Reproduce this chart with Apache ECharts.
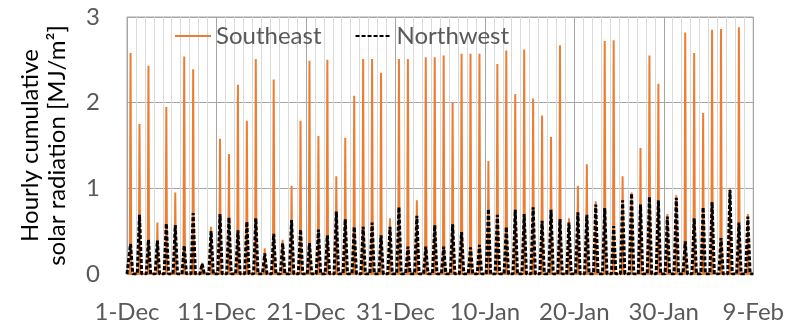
<!DOCTYPE html>
<html>
<head>
<meta charset="utf-8">
<script src="https://cdn.jsdelivr.net/npm/echarts@6/dist/echarts.min.js"></script>
<style>
html,body{margin:0;padding:0;background:#fff;}
#chart{width:787px;height:324px;}
</style>
</head>
<body>
<div id="chart"></div>
<script>
// Daily peak of hourly cumulative solar radiation [MJ/m2], 1-Dec (day 0) .. 8-Feb (day 69)
const southeastPeaks = [
  2.58, 1.75, 2.43, 0.60, 1.95, 0.95, 2.54, 2.39, 0.13, 0.55,
  1.58, 1.40, 2.21, 1.79, 2.51, 0.30, 2.27, 0.40, 1.03, 1.79,
  2.49, 1.61, 2.50, 1.14, 1.59, 2.08, 2.51, 2.51, 2.35, 0.65,
  2.51, 2.51, 0.86, 2.53, 2.53, 2.55, 2.00, 2.57, 2.57, 2.57,
  1.32, 2.45, 2.61, 2.10, 2.62, 2.05, 1.85, 1.60, 2.67, 0.65,
  1.03, 1.28, 0.85, 2.72, 2.73, 1.14, 0.95, 1.47, 2.55, 2.22,
  0.70, 0.92, 2.82, 2.58, 1.88, 2.85, 2.86, 1.00, 2.88, 0.70
];
const northwestPeaks = [
  0.35, 0.69, 0.40, 0.39, 0.59, 0.57, 0.33, 0.71, 0.12, 0.50,
  0.70, 0.66, 0.51, 0.61, 0.65, 0.24, 0.47, 0.36, 0.63, 0.52,
  0.36, 0.52, 0.45, 0.73, 0.64, 0.55, 0.55, 0.60, 0.45, 0.55,
  0.78, 0.32, 0.68, 0.32, 0.57, 0.32, 0.58, 0.49, 0.31, 0.34,
  0.76, 0.69, 0.55, 0.75, 0.70, 0.78, 0.62, 0.75, 0.64, 0.60,
  0.72, 0.69, 0.81, 0.77, 0.56, 0.86, 0.94, 0.81, 0.90, 0.86,
  0.67, 0.89, 0.38, 0.65, 0.78, 0.84, 0.42, 0.98, 0.60, 0.67
];
const xTickLabels = ['1-Dec','11-Dec','21-Dec','31-Dec','10-Jan','20-Jan','30-Jan','9-Feb'];
const yTickLabels = ['0','1','2','3'];
const seriesNames = ['Southeast','Northwest'];

// Hours of the day used to draw each day's profile (zero at night)
function profile(peaks, riseH, peakH, setH) {
  const pts = [[0, 0]];
  peaks.forEach((v, d) => {
    pts.push([d + riseH / 24, 0], [d + peakH / 24, v], [d + setH / 24, 0]);
  });
  pts.push([peaks.length, 0]);
  return pts;
}

const font = 'Lato, "Open Sans", sans-serif';
const grey = '#595959';
const chart = echarts.init(document.getElementById('chart'), null, {renderer: 'canvas'});
chart.setOption({
  animation: false,
  backgroundColor: '#fff',
  grid: {left: 127, right: 33, top: 17, bottom: 49, show: true, borderColor: '#a6a6a6', borderWidth: 1},
  legend: {
    left: 169, top: 19, itemWidth: 36, itemHeight: 14, itemGap: 33,
    itemStyle: {opacity: 0},
    textStyle: {fontFamily: font, fontSize: 24, color: grey},
    data: seriesNames
  },
  xAxis: {
    type: 'value', min: 0, max: 70, interval: 10,
    axisLine: {show: true, lineStyle: {color: '#a6a6a6'}},
    axisTick: {show: false},
    minorTick: {show: false, splitNumber: 10},
    minorSplitLine: {show: true, lineStyle: {color: '#d9d9d9', width: 1}},
    splitLine: {show: true, lineStyle: {color: '#a6a6a6', width: 1}},
    axisLabel: {
      fontFamily: font, fontSize: 24, color: grey, margin: 26,
      formatter: v => xTickLabels[Math.round(v / 10)]
    }
  },
  yAxis: {
    type: 'value', min: 0, max: 3, interval: 1,
    axisLine: {show: false}, axisTick: {show: false},
    splitLine: {show: true, lineStyle: {color: '#a6a6a6', width: 1}},
    axisLabel: {fontFamily: font, fontSize: 24, color: grey, margin: 27,
      formatter: v => yTickLabels[Math.round(v)]},
    name: 'Hourly cumulative\nsolar radiation [MJ/m²]',
    nameLocation: 'middle', nameGap: 56, nameRotate: 90,
    nameTextStyle: {fontFamily: font, fontSize: 24, color: '#000', lineHeight: 27}
  },
  series: [
    {
      name: seriesNames[0], type: 'line', symbol: 'none',
      data: profile(southeastPeaks, 7.5, 9.5, 11.5),
      lineStyle: {color: '#ED7D31', width: 2},
      itemStyle: {color: '#ED7D31'},
      z: 2
    },
    {
      name: seriesNames[1], type: 'line', symbol: 'none',
      data: profile(northwestPeaks, 3.5, 9.5, 15.5),
      lineStyle: {color: '#000', width: 3, type: [4, 2]},
      itemStyle: {color: '#000'},
      z: 3
    }
  ]
});
</script>
</body>
</html>
